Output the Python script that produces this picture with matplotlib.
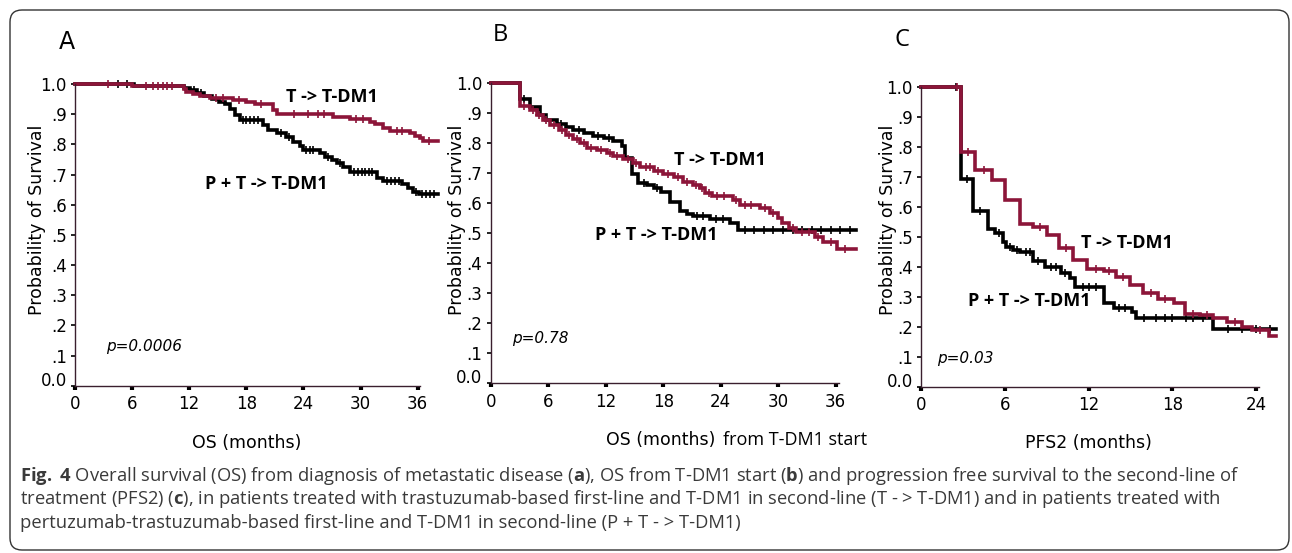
import numpy as np
import matplotlib
matplotlib.use("Agg")
from matplotlib import pyplot as plt
from matplotlib.patches import FancyBboxPatch
from matplotlib.transforms import IdentityTransform, ScaledTranslation

plt.rcParams['font.family'] = ['DejaVu Sans']
plt.rcParams['mathtext.fontset'] = 'custom'
plt.rcParams['mathtext.rm'] = 'Open Sans'
plt.rcParams['mathtext.bf'] = 'Open Sans:bold'

MAROON = "#8c1539"
BLACK = "#000000"
SPINE = "#3a1f2e"

# ---- panel A: OS from diagnosis of metastatic disease ----
a_t_times = [0, 6, 11.5, 11.7, 12.4, 13.1, 14.2, 16.6, 18.0, 18.9, 20.8, 21.2, 27.1, 28.9,
             31.0, 31.5, 32.4, 33.1, 35.2, 35.7, 36.2, 36.6]
a_t_surv = [1.0, 0.993, 0.985, 0.975, 0.967, 0.96, 0.954, 0.947, 0.94, 0.933, 0.915, 0.899, 0.889, 0.883,
            0.875, 0.866, 0.855, 0.845, 0.839, 0.828, 0.82, 0.812]
a_t_cens = [3.5, 7.5, 8.2, 8.7, 9.2, 9.7, 10.2, 14.8, 15.5, 17.2, 19.5, 23.0, 24.5, 25.5, 26.2,
            29.5, 30.2, 33.8, 34.4, 37.2]

a_p_times = [0, 6.2, 11.4, 12.1, 12.8, 13.5, 14.4, 15.1, 15.8, 16.3, 16.8, 17.3, 19.8, 20.3, 21.2,
             22.2, 22.9, 23.6, 24.0, 25.7, 26.3, 27.0, 27.5, 28.2, 28.9, 31.7, 32.4, 34.3, 35.0,
             35.5, 36.1]
a_p_surv = [1.0, 0.995, 0.986, 0.98, 0.969, 0.96, 0.949, 0.941, 0.934, 0.916, 0.897, 0.881, 0.864,
            0.848, 0.836, 0.823, 0.809, 0.794, 0.781, 0.77, 0.759, 0.748, 0.737, 0.724, 0.709,
            0.69, 0.678, 0.669, 0.654, 0.643, 0.635]
a_p_cens = [4.5, 5.5, 12.5, 13.2, 17.6, 18.0, 18.4, 18.8, 19.2, 21.6, 22.5, 24.3, 24.7, 25.0,
            26.6, 27.8, 29.3, 29.7, 30.1, 30.5, 30.9, 31.2, 32.8, 33.2, 33.6, 34.0, 35.8,
            36.5, 36.9, 37.3, 37.7]

# ---- panel B: OS from T-DM1 start ----
b_t_times = [0, 3.06, 4.1, 4.8, 5.5, 6.2, 7.1, 7.9, 8.6, 9.3, 10.0, 11.1, 12.1, 12.8, 13.8, 14.9,
             15.6, 17.0, 18.0, 19.1, 20.1, 21.1, 21.8, 22.4, 23.1, 25.3, 26.0, 28.1, 29.1, 30.0,
             30.4, 31.1, 31.9, 33.8, 34.7, 36.1]
b_t_surv = [1.0, 0.924, 0.911, 0.894, 0.878, 0.861, 0.844, 0.828, 0.813, 0.802, 0.783, 0.778,
            0.769, 0.758, 0.747, 0.733, 0.722, 0.709, 0.698, 0.687, 0.672, 0.661, 0.65, 0.633,
            0.624, 0.611, 0.594, 0.583, 0.569, 0.55, 0.533, 0.517, 0.506, 0.489, 0.472, 0.447]
b_t_cens = [3.5, 4.4, 5.0, 5.8, 6.6, 7.4, 8.2, 9.0, 9.7, 10.5, 11.5, 12.4, 13.2, 14.3, 15.2, 16.2,
            16.6, 17.5, 18.5, 19.5, 20.5, 21.4, 22.0, 22.8, 23.6, 24.3, 25.6, 26.5, 27.2, 28.6,
            29.5, 31.5, 32.5, 33.2, 34.2, 35.5, 37.0]

b_p_times = [0, 3.06, 4.1, 5.1, 5.8, 6.9, 7.9, 8.6, 9.7, 10.7, 11.8, 12.8, 13.7, 14.0, 14.7,
             15.4, 16.3, 17.0, 17.8, 18.7, 19.8, 20.5, 21.1, 22.9, 25.0, 25.8]
b_p_surv = [1.0, 0.948, 0.92, 0.894, 0.878, 0.864, 0.853, 0.844, 0.833, 0.824, 0.817, 0.809,
            0.791, 0.75, 0.698, 0.667, 0.661, 0.65, 0.639, 0.606, 0.576, 0.563, 0.558, 0.547,
            0.533, 0.511]
b_p_cens = [3.5, 7.3, 9.2, 11.2, 12.3, 16.0, 17.4, 21.5, 22.2, 23.5, 24.2, 26.5, 27.5, 28.5,
            29.5, 30.5, 31.5, 32.5, 33.5, 34.5, 35.5, 36.5, 37.5]

# ---- panel C: PFS2 ----
c_t_times = [0, 2.9, 3.87, 5.1, 6.0, 7.1, 8.0, 9.0, 9.9, 10.9, 11.9, 13.1, 14.0, 15.0, 15.9,
             17.0, 18.1, 18.9, 20.0, 20.9, 21.9, 23.0, 23.7, 24.9]
c_t_surv = [1.0, 0.783, 0.722, 0.689, 0.622, 0.542, 0.531, 0.506, 0.461, 0.422, 0.394, 0.387,
            0.367, 0.339, 0.311, 0.294, 0.278, 0.244, 0.239, 0.228, 0.217, 0.2, 0.189, 0.169]
c_t_cens = [2.6, 3.4, 4.5, 8.5, 10.4, 12.5, 13.5, 14.5, 16.5, 17.5, 19.5, 20.5, 22.5, 24.3]

c_p_times = [0, 2.9, 3.75, 4.8, 5.3, 5.9, 6.1, 6.6, 7.1, 8.0, 8.9, 10.0, 10.7, 11.0, 13.1, 13.8,
             15.1, 15.4, 20.9]
c_p_surv = [1.0, 0.691, 0.587, 0.524, 0.511, 0.483, 0.467, 0.456, 0.448, 0.42, 0.4, 0.378,
            0.361, 0.333, 0.278, 0.264, 0.25, 0.228, 0.194]
c_p_cens = [2.5, 3.3, 4.2, 5.6, 6.4, 6.9, 7.5, 7.8, 8.4, 9.3, 9.7, 10.3, 11.6, 12.0, 12.5,
            14.2, 14.6, 16.0, 16.8, 17.5, 18.0, 19.0, 19.5, 20.2, 22.0, 23.0, 24.0, 25.0]

panel_letters = ["A", "B", "C"]
x_ticks = [[0, 6, 12, 18, 24, 30, 36], [0, 6, 12, 18, 24, 30, 36], [0, 6, 12, 18, 24]]
y_ticks = [0.0, 0.1, 0.2, 0.3, 0.4, 0.5, 0.6, 0.7, 0.8, 0.9, 1.0]
y_ticklabels = ["0.0", ".1", ".2", ".3", ".4", ".5", ".6", ".7", ".8", ".9", "1.0"]
p_values = ["p=0.0006", "p=0.78", "p=0.03"]

caption_lines = [
    r"$\mathbf{Fig.}$ $\mathbf{4}$ Overall survival (OS) from diagnosis of metastatic disease ($\mathbf{a}$), "
    r"OS from T-DM1 start ($\mathbf{b}$) and progression free survival to the second-line of",
    r"treatment (PFS2) ($\mathbf{c}$), in patients treated with trastuzumab-based first-line and "
    r"T-DM1 in second-line (T - > T-DM1) and in patients treated with",
    r"pertuzumab-trastuzumab-based first-line and T-DM1 in second-line (P + T - > T-DM1)",
]

W, H = 1292, 553
fig = plt.figure(figsize=(W / 100, H / 100), dpi=100)


def fx(px):
    return px / W


def fy(py):
    return 1 - py / H


def km(ax, times, surv, cens, xend, color):
    t = list(times) + [xend]
    s = list(surv) + [surv[-1]]
    ax.step(t, s, where="post", color=color, lw=2.6, solid_joinstyle="miter", clip_on=False)
    idx = np.searchsorted(times, cens, side="right") - 1
    ax.plot(cens, np.array(surv)[idx], ls="none", marker="+", ms=6, mew=1.2, color=color,
            clip_on=False)


def make_axes(x0, ppm, xmax, y0, y1, xspine):
    ax = fig.add_axes([fx(x0), fy(y0), ppm * xmax / W, (y0 - y1) * 1.02 / H])
    ax.set_xlim(0, xmax)
    ax.set_ylim(0, 1.02)
    for s in ["top", "right"]:
        ax.spines[s].set_visible(False)
    for s in ["left", "bottom"]:
        ax.spines[s].set_color(SPINE)
        ax.spines[s].set_linewidth(1.0)
    ax.spines["bottom"].set_bounds(0, xspine)
    ax.spines["left"].set_bounds(0, 1.0)
    ax.patch.set_visible(False)
    return ax


specs = [
    # x0, px per month, xmax, y0 (S=0), y1 (S=1), spine end
    (75.0, 9.52, 38.1, 385.7, 84.0, 36.2),
    (490.7, 9.583, 38.1, 383.3, 83.3, 36.3),
    (921.0, 13.96, 25.4, 386.7, 86.7, 24.2),
]
series = [
    [(a_p_times, a_p_surv, a_p_cens, BLACK), (a_t_times, a_t_surv, a_t_cens, MAROON)],
    [(b_p_times, b_p_surv, b_p_cens, BLACK), (b_t_times, b_t_surv, b_t_cens, MAROON)],
    [(c_p_times, c_p_surv, c_p_cens, BLACK), (c_t_times, c_t_surv, c_t_cens, MAROON)],
]

for i, (x0, ppm, xmax, y0, y1, xsp) in enumerate(specs):
    ax = make_axes(x0, ppm, xmax, y0, y1, xsp)
    for times, surv, cens, col in series[i]:
        km(ax, times, surv, cens, xmax, col)
    ax.set_xticks(x_ticks[i])
    ax.set_yticks(y_ticks)
    ax.set_yticklabels(y_ticklabels)
    ax.tick_params(axis="x", length=3, width=3, pad=4, labelsize=12, color=BLACK)
    ax.tick_params(axis="y", length=3, width=1.2, pad=3, labelsize=12, color=BLACK)
    zero = ax.get_yticklabels()[0]
    zero.set_transform(zero.get_transform() + ScaledTranslation(0, 5 / 72, fig.dpi_scale_trans))

# panel letters
fig.text(fx(67), fy(42), "A", fontsize=17, ha="center", va="center")
fig.text(fx(500), fy(35), "B", fontsize=17, ha="center", va="center", family="Open Sans")
fig.text(fx(902), fy(40), "C", fontsize=17, ha="center", va="center", family="Open Sans")

# y labels
for px in [37, 457, 888]:
    fig.text(fx(px), fy(220), "Probability of Survival", fontsize=12.5, rotation=90,
             ha="center", va="center")

# x labels
fig.text(fx(247), fy(443), "OS (months)", fontsize=12.5, ha="center", va="center")
fig.text(fx(606), fy(440), "OS (months)", fontsize=12.5, ha="left", va="center")
fig.text(fx(723), fy(440), "from T-DM1 start", fontsize=13, ha="left", va="center",
         family="Open Sans")
fig.text(fx(1088), fy(443), "PFS2 (months)", fontsize=12.5, ha="center", va="center")

# group labels
lab = dict(fontsize=13, fontweight="bold", family="Open Sans", ha="center", va="center")
fig.text(fx(332), fy(97), "T -> T-DM1", **lab)
fig.text(fx(266), fy(184), "P + T -> T-DM1", **lab)
fig.text(fx(720), fy(160), "T -> T-DM1", **lab)
fig.text(fx(656), fy(235), "P + T -> T-DM1", **lab)
fig.text(fx(1127), fy(243), "T -> T-DM1", **lab)
fig.text(fx(1029), fy(301), "P + T -> T-DM1", **lab)

# p values
for px, py, p in zip([106, 512, 937], [346, 338, 358], p_values):
    fig.text(fx(px), fy(py), p, fontsize=11, style="italic", ha="left", va="center")

# caption
for j, line in enumerate(caption_lines):
    fig.text(fx(20), fy(476 + 23.5 * j), line, fontsize=13.2, family="Open Sans",
             color="#3a3a3a", ha="left", va="center")

# rounded frame
frame = FancyBboxPatch((10, 3), 1279, 540, boxstyle="round,pad=0,rounding_size=12",
                       transform=IdentityTransform(), fill=False, ec="#333333", lw=1.0)
fig.patches.append(frame)

fig.savefig("out.png", dpi=100)
